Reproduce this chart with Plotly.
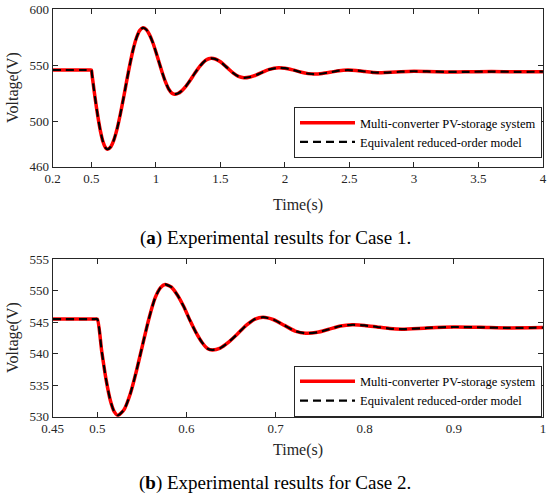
import plotly.graph_objects as go

# Case 1
t1 = [0.2, 0.45, 0.49, 0.5, 0.505, 0.515, 0.53, 0.55, 0.57, 0.59, 0.61, 0.625,
      0.65, 0.675, 0.7, 0.725, 0.75, 0.775, 0.8, 0.825, 0.85, 0.875, 0.9,
      0.925, 0.95, 0.975, 1.0, 1.025, 1.05, 1.075, 1.1, 1.125, 1.143,
      1.17, 1.2, 1.235, 1.27, 1.3, 1.34, 1.38, 1.41, 1.429,
      1.46, 1.5, 1.55, 1.6, 1.64, 1.682, 1.73, 1.78, 1.83, 1.88, 1.95,
      2.0, 2.06, 2.12, 2.18, 2.227, 2.29, 2.36, 2.42, 2.486,
      2.55, 2.62, 2.69, 2.75, 2.82, 2.9, 3.0, 3.1, 3.25, 3.4, 3.6, 3.8, 4.0]
v1 = [546, 546, 546, 546, 541.6, 532.8, 520, 504.6, 491.7, 482.2, 476.8, 475.5,
      477.7, 484.1, 494.1, 507.1, 521.8, 537.2, 551.9, 564.9, 574.9, 581.3, 583.5,
      582, 577.5, 570.7, 562.1, 552.7, 543.4, 535.2, 528.9, 525.3, 524.5,
      525.1, 527.5, 531.9, 537.6, 542.9, 549.3, 554.2, 556.0, 556.4,
      555.8, 553.3, 548.3, 543.2, 540.3, 539.1, 539.8, 541.7, 544.3, 546.6, 548,
      547.6, 546.1, 544.2, 542.8, 542.4, 542.9, 544.2, 545.4, 545.9,
      545.6, 544.7, 543.8, 543.6, 543.9, 544.5, 544.9, 544.7, 544.3, 544.4, 544.6, 544.4, 544.5]

# Case 2
t2 = [0.45, 0.49, 0.497, 0.5, 0.505, 0.51, 0.515, 0.519, 0.523,
      0.53, 0.537, 0.544, 0.551, 0.558, 0.565, 0.571, 0.576,
      0.583, 0.59, 0.597, 0.604, 0.611, 0.618, 0.624, 0.629,
      0.638, 0.647, 0.657, 0.667, 0.677, 0.686,
      0.698, 0.71, 0.722, 0.734, 0.747, 0.76, 0.773, 0.786,
      0.8, 0.814, 0.828, 0.842, 0.87, 0.9, 0.93, 0.96, 1.0]
v2 = [545.5, 545.5, 545.5, 545.5, 540.4, 535.8, 532.4, 530.8, 530.2,
      531.1, 533.6, 537.3, 541.5, 545.6, 548.9, 550.5, 551.0,
      550.6, 549.3, 547.5, 545.3, 543.3, 541.7, 540.8, 540.6,
      540.9, 541.8, 543.1, 544.5, 545.5, 545.8,
      545.4, 544.5, 543.6, 543.25, 543.4, 543.9, 544.4, 544.6,
      544.5, 544.25, 544.0, 543.9, 544.1, 544.25, 544.2, 544.1, 544.15]

name_sys = "Multi-converter PV-storage system"
name_model = "Equivalent reduced-order model"

x1_ticks = [0.2, 0.5, 1, 1.5, 2, 2.5, 3, 3.5, 4]
x1_labels = ["0.2", "0.5", "1", "1.5", "2", "2.5", "3", "3.5", "4"]
y1_ticks = [460, 500, 550, 600]
x2_ticks = [0.45, 0.5, 0.6, 0.7, 0.8, 0.9, 1]
x2_labels = ["0.45", "0.5", "0.6", "0.7", "0.8", "0.9", "1"]
y2_ticks = [530, 535, 540, 545, 550, 555]

FONT = "Liberation Serif"
AX = "#262626"
W, H = 550, 497

fig = go.Figure()

for (t, v, xa, ya, leg) in [(t1, v1, "x", "y", "legend"), (t2, v2, "x2", "y2", "legend2")]:
    fig.add_trace(go.Scatter(x=t, y=v, xaxis=xa, yaxis=ya, mode="lines", name=name_sys,
                             line=dict(color="#ff0000", width=3.5, shape="spline", smoothing=0.6),
                             legend=leg))
    fig.add_trace(go.Scatter(x=t, y=v, xaxis=xa, yaxis=ya, mode="lines", name=name_model,
                             line=dict(color="black", width=2.2, dash="8px,5px",
                                       shape="spline", smoothing=0.6),
                             legend=leg))

axis_common = dict(showline=True, mirror="ticks", linecolor=AX, linewidth=1,
                   ticks="inside", ticklen=5, tickcolor=AX, showgrid=False, zeroline=False,
                   automargin=False, ticklabeloverflow="allow",
                   tickfont=dict(family=FONT, size=13, color=AX))

xdom = [52.7 / W, 543 / W]
leg_common = dict(xanchor="right", yanchor="bottom", bgcolor="white", bordercolor=AX,
                  borderwidth=1, font=dict(family=FONT, size=12.5, color="black"),
                  tracegroupgap=0, itemwidth=55)

fig.update_layout(
    width=W, height=H, margin=dict(l=0, r=0, t=0, b=0),
    plot_bgcolor="white", paper_bgcolor="white",
    font=dict(family=FONT, color=AX),
    xaxis=dict(domain=xdom, anchor="y", range=[0.2, 4.0005],
               tickvals=x1_ticks, ticktext=x1_labels, **axis_common),
    yaxis=dict(domain=[1 - 166.7 / H, 1 - 9.3 / H], anchor="x", range=[460, 600],
               tickvals=y1_ticks, **axis_common),
    xaxis2=dict(domain=xdom, anchor="y2", range=[0.45, 1.0001],
                tickvals=x2_ticks, ticktext=x2_labels, **axis_common),
    yaxis2=dict(domain=[1 - 416.7 / H, 1 - 259.3 / H], anchor="x2", range=[530, 555],
                tickvals=y2_ticks, **axis_common),
    legend=dict(x=542 / W, y=1 - 158 / H, **leg_common),
    legend2=dict(x=542 / W, y=1 - 416.7 / H, **leg_common),
    showlegend=True,
)

# axis titles
for (txt, x, y, ang) in [("Time(s)", 298, 205, 0), ("Voltage(V)", 13, 88, -90),
                         ("Time(s)", 298, 450, 0), ("Voltage(V)", 13, 338, -90)]:
    fig.add_annotation(text=txt, xref="paper", yref="paper", x=x / W, y=1 - y / H,
                       xanchor="center", yanchor="middle", showarrow=False, textangle=ang,
                       font=dict(family=FONT, size=16, color=AX))

# captions
fig.add_annotation(text="(<b>a</b>) Experimental results for Case 1.", xref="paper", yref="paper",
                   x=275 / W, y=1 - 238 / H, xanchor="center", yanchor="middle", showarrow=False,
                   font=dict(family=FONT, size=19, color="black"))
fig.add_annotation(text="(<b>b</b>) Experimental results for Case 2.", xref="paper", yref="paper",
                   x=275 / W, y=1 - 483 / H, xanchor="center", yanchor="middle", showarrow=False,
                   font=dict(family=FONT, size=19, color="black"))

# page body has a default 8px margin; drop it so the figure fills the window
fig.write_html("out.html", config={"displayModeBar": False},
               post_script="document.body.style.margin='0';document.body.style.overflow='hidden';")
